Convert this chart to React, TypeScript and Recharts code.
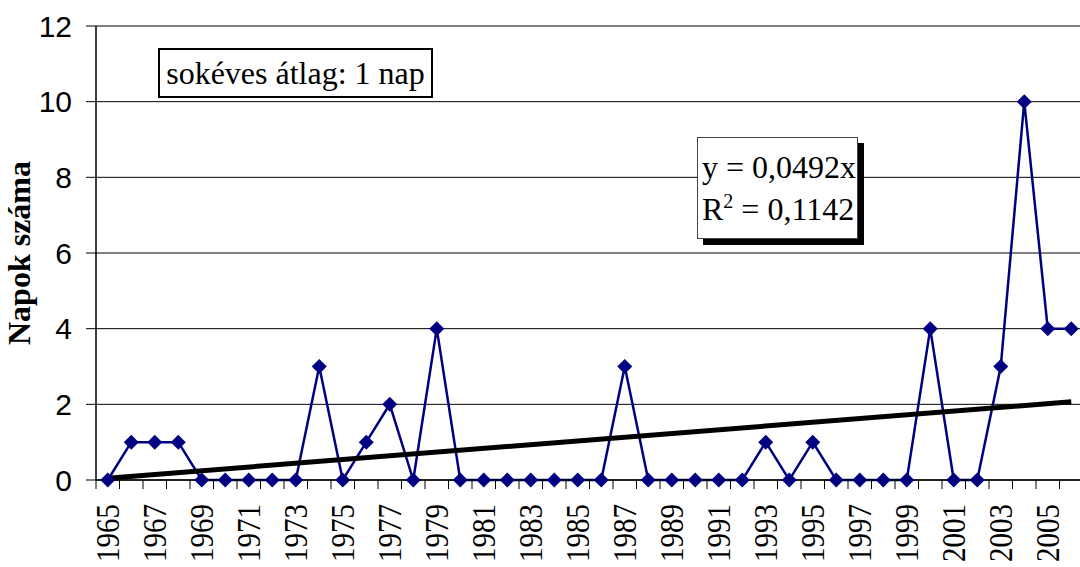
import { ComposedChart, Line, XAxis, YAxis, CartesianGrid } from 'recharts'

const years = [
  1965, 1966, 1967, 1968, 1969, 1970, 1971, 1972, 1973, 1974, 1975, 1976, 1977, 1978,
  1979, 1980, 1981, 1982, 1983, 1984, 1985, 1986, 1987, 1988, 1989, 1990, 1991, 1992,
  1993, 1994, 1995, 1996, 1997, 1998, 1999, 2000, 2001, 2002, 2003, 2004, 2005, 2006,
]
const days = [
  0, 1, 1, 1, 0, 0, 0, 0, 0, 3, 0, 1, 2, 0,
  4, 0, 0, 0, 0, 0, 0, 0, 3, 0, 0, 0, 0, 0,
  1, 0, 1, 0, 0, 0, 0, 4, 0, 0, 3, 10, 4, 4,
]
const yTicks = [0, 2, 4, 6, 8, 10, 12]

// linear trend through the origin: y = 0,0492x (x = 1 for the first year)
const slope = 0.0492

const data = years.map((y, i) => ({
  year: String(y),
  days: days[i],
  trend: i === 0 || i === years.length - 1 ? slope * (i + 1) : null,
}))

const W = 1083
const H = 567
const LEFT = 96
const BAND = (W - LEFT) / years.length
const AXIS_Y = 480

const serif = '"Liberation Serif", "Times New Roman", serif'
const sans = '"Liberation Sans", Arial, sans-serif'

function Diamond(props: any) {
  const { cx, cy } = props
  if (cx == null || cy == null) return null
  const r = 7.5
  return <polygon points={`${cx},${cy - r} ${cx + r},${cy} ${cx},${cy + r} ${cx - r},${cy}`} fill="#000080" />
}

function YearTick(props: any) {
  const { x, payload, index } = props
  const left = x - BAND / 2
  const ty = AXIS_Y + 24
  return (
    <g>
      <line x1={left} y1={AXIS_Y} x2={left} y2={AXIS_Y + 9} stroke="#000" strokeWidth={1} />
      {index % 2 === 0 && (
        <text
          x={0}
          y={0}
          transform={`translate(${x}, ${ty}) rotate(-90) scale(1, 1.15)`}
          textAnchor="end"
          dominantBaseline="central"
          fontFamily={serif}
          fontSize={29}
          fill="#000"
        >
          {payload.value}
        </text>
      )}
    </g>
  )
}

export default function App() {
  return (
    <div style={{ position: 'fixed', left: 0, top: 0, width: 1080, height: 567, overflow: 'hidden', background: '#fff' }}>
      <ComposedChart width={W} height={H} data={data} margin={{ top: 26, right: 0, bottom: 0, left: 0 }}>
        <CartesianGrid vertical={false} stroke="#000" strokeWidth={1} />
        <XAxis
          dataKey="year"
          interval={0}
          height={H - AXIS_Y}
          padding={{ left: BAND / 2, right: BAND / 2 }}
          tickLine={false}
          axisLine={{ stroke: '#000', strokeWidth: 1.5 }}
          tick={<YearTick />}
        />
        <YAxis
          width={LEFT}
          domain={[0, 12]}
          ticks={yTicks}
          interval={0}
          axisLine={{ stroke: '#000', strokeWidth: 1.5 }}
          tickLine={{ stroke: '#000' }}
          tickSize={10}
          tickMargin={14}
          tick={{ fill: '#000', fontSize: 30, fontFamily: sans }}
          label={{
            value: 'Napok száma',
            angle: -90,
            position: 'insideLeft',
            dx: 14,
            style: { fontFamily: serif, fontWeight: 'bold', fontSize: 32, fill: '#000', textAnchor: 'middle' },
          }}
        />
        <Line
          dataKey="days"
          stroke="#000080"
          strokeWidth={2.5}
          dot={<Diamond />}
          activeDot={false}
          isAnimationActive={false}
        />
        <Line
          dataKey="trend"
          stroke="#000"
          strokeWidth={5}
          dot={false}
          activeDot={false}
          connectNulls
          isAnimationActive={false}
        />
      </ComposedChart>
      <div
        style={{
          position: 'absolute', left: 158, top: 48, width: 271, height: 46,
          border: '2px solid #000', background: '#fff',
          fontFamily: serif, fontSize: 32, lineHeight: '46px', textAlign: 'center', whiteSpace: 'nowrap',
        }}
      >
        sokéves átlag: 1 nap
      </div>
      <div
        style={{
          position: 'absolute', left: 697, top: 137, width: 161, height: 102,
          border: '1px solid #444', background: '#fff', boxShadow: '6px 6px 0 #000',
          fontFamily: serif, fontSize: 32, lineHeight: '42px', paddingLeft: 4, paddingTop: 8,
          boxSizing: 'border-box', whiteSpace: 'nowrap',
        }}
      >
        <div>y = 0,0492x</div>
        <div>
          R<sup style={{ fontSize: 20, lineHeight: 0 }}>2</sup> = 0,1142
        </div>
      </div>
    </div>
  )
}
